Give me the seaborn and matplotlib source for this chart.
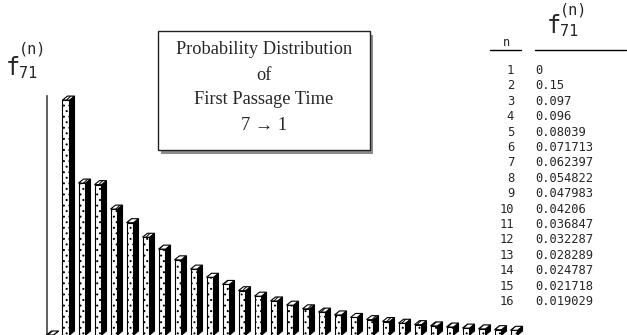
import numpy as np
import pandas as pd
import matplotlib
matplotlib.use("Agg")
import matplotlib.pyplot as plt
from matplotlib.patches import Polygon, Rectangle
import seaborn as sns

# First passage probabilities f_71^(n), n = 1..30
steps = list(range(1, 31))
table_values = [0, 0.15, 0.097, 0.096, 0.08039, 0.071713, 0.062397, 0.054822,
                0.047983, 0.04206, 0.036847, 0.032287, 0.028289, 0.024787,
                0.021718, 0.019029]
tail_values = [0.0167, 0.0146, 0.0128, 0.0112, 0.0098, 0.0086, 0.0075,
               0.0066, 0.0058, 0.0051, 0.0044, 0.0039, 0.0034, 0.0030]
probs = table_values + tail_values

title_lines = ["Probability Distribution", "of", "First Passage Time", "7 \u2192 1"]

df = pd.DataFrame({"n": steps, "f": probs})

sns.set_theme(style="white")
plt.rcParams["hatch.linewidth"] = 0.7

W, H = 627, 335
fig = plt.figure(figsize=(W / 100, H / 100), dpi=100)


def fx(px):
    return px / W


def fy(py):
    return 1 - py / H


# plotting area: left spine at x=47px, from y=96px down to the bottom edge
ax_left, ax_right, ax_top = 47, 535, 96
ax = fig.add_axes([fx(ax_left), 0, (ax_right - ax_left) / W, (H - ax_top) / H])
ymax = 0.1526
px_per_unit = 16.0
sns.barplot(data=df, x="n", y="f", color="white", edgecolor="black",
            linewidth=0.8, width=7.0 / px_per_unit, hatch="...", saturation=1,
            errorbar=None, ax=ax)
ax.set_xlim(-(50 - ax_left) / px_per_unit, (ax_right - 50) / px_per_unit)
ax.set_ylim(0, ymax)

# 3-D look: dark side face and a small top cap on each bar
dx = 5.0 / px_per_unit
dy = 4.0 * ymax / (H - ax_top)
for bar in list(ax.patches):
    x0 = bar.get_x()
    w = bar.get_width()
    h = bar.get_height()
    side = Polygon([(x0 + w, 0), (x0 + w + dx, dy), (x0 + w + dx, h + dy),
                    (x0 + w, h)], closed=True, facecolor="black",
                   edgecolor="black", linewidth=0.8, clip_on=False, zorder=3)
    cap = Polygon([(x0, h), (x0 + dx, h + dy), (x0 + w + dx, h + dy),
                   (x0 + w, h)], closed=True, facecolor="white",
                  edgecolor="black", linewidth=0.8, hatch="////",
                  clip_on=False, zorder=3)
    ax.add_patch(side)
    ax.add_patch(cap)

for s in ["top", "right", "bottom"]:
    ax.spines[s].set_visible(False)
ax.spines["left"].set_color("#444444")
ax.spines["left"].set_linewidth(1.2)
ax.set_xticks([])
ax.set_yticks([])
ax.set_xlabel("")
ax.set_ylabel("")
ax.patch.set_alpha(0)

mono = ["DejaVu Sans Mono"]
serif = ["Liberation Serif", "DejaVu Serif"]

# y-axis label f_71^(n)
fig.text(fx(6), fy(68), "f", family=mono, fontsize=17, ha="left", va="center")
fig.text(fx(19), fy(49), "(n)", family=mono, fontsize=11, ha="left", va="center")
fig.text(fx(19), fy(73), "71", family=mono, fontsize=11, ha="left", va="center")

# title box with shadow
bx0, by0, bx1, by1 = 158, 31, 370, 150
fig.patches.append(Rectangle((fx(bx0 + 3), fy(by1 + 4)), (bx1 - bx0) / W,
                             (by1 - by0) / H, transform=fig.transFigure,
                             facecolor="#8c8c8c", edgecolor="none", zorder=1))
fig.patches.append(Rectangle((fx(bx0), fy(by1)), (bx1 - bx0) / W,
                             (by1 - by0) / H, transform=fig.transFigure,
                             facecolor="white", edgecolor="#222222",
                             linewidth=1.0, zorder=2))
for line, py in zip(title_lines, [50, 75, 99, 126]):
    fig.text(fx((bx0 + bx1) / 2), fy(py), line, family=serif, fontsize=13.2,
             ha="center", va="center", zorder=5)

# value table
fig.text(fx(506), fy(42), "n", family=mono, fontsize=8.5, ha="center", va="center")
fig.add_artist(plt.Line2D([fx(490), fx(521)], [fy(50), fy(50)],
                          color="black", linewidth=1.0))
fig.text(fx(547), fy(26), "f", family=mono, fontsize=17, ha="left", va="center")
fig.text(fx(560), fy(10), "(n)", family=mono, fontsize=11, ha="left", va="center")
fig.text(fx(560), fy(31), "71", family=mono, fontsize=11, ha="left", va="center")
fig.add_artist(plt.Line2D([fx(535), fx(626)], [fy(50), fy(50)],
                          color="black", linewidth=1.0))
for i, (n, v) in enumerate(zip(steps[:len(table_values)], table_values)):
    py = 70.5 + i * 15.4
    fig.text(fx(514), fy(py), str(n), family=mono, fontsize=8.7,
             ha="right", va="center")
    fig.text(fx(535), fy(py), f"{v:g}", family=mono, fontsize=8.7,
             ha="left", va="center")

fig.savefig("out.png", dpi=100, facecolor="white")
